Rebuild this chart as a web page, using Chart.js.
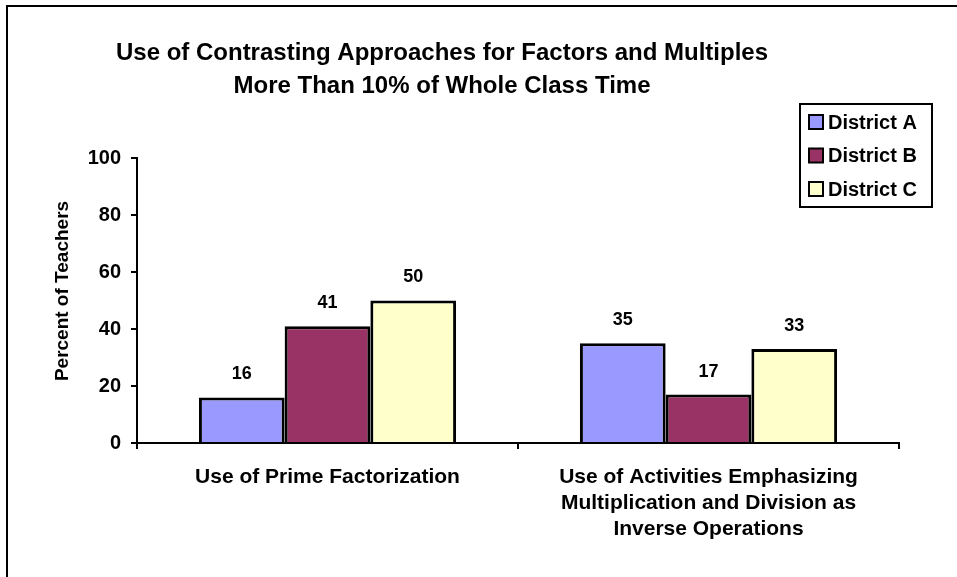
<!DOCTYPE html>
<html>
<head>
<meta charset="utf-8">
<script src="https://cdn.jsdelivr.net/npm/chart.js@4.4.1/dist/chart.umd.min.js"></script>
<style>
  html, body { margin: 0; padding: 0; background: #fff; }
  #wrap { position: relative; width: 957px; height: 577px; }
</style>
</head>
<body>
<div id="wrap"><canvas id="chart" width="957" height="577"></canvas></div>
<script>
// ── Data ────────────────────────────────────────────────────
const categories = [
  ['Use of Prime Factorization'],
  ['Use of Activities Emphasizing', 'Multiplication and Division as', 'Inverse Operations']
];
const seriesNames = ['District A', 'District B', 'District C'];
const districtA = [16, 35];
const districtB = [41, 17];
const districtC = [50, 33];
const seriesColors = ['#9999FF', '#993366', '#FFFFCC'];
const titleLines = [
  'Use of Contrasting Approaches for Factors and Multiples',
  'More Than 10% of Whole Class Time'
];
const yTitle = 'Percent of Teachers';

const FONT = "'Liberation Sans', Arial, sans-serif";

// ── Plugins ─────────────────────────────────────────────────
// outer frame (left + top edge only, like the cropped original)
const framePlugin = {
  id: 'frame',
  beforeDraw(chart) {
    const c = chart.ctx;
    c.save();
    c.fillStyle = '#fff';
    c.fillRect(0, 0, chart.width, chart.height);
    c.strokeStyle = '#000';
    c.lineWidth = 2;
    c.beginPath();
    c.moveTo(7, chart.height);
    c.lineTo(7, 6);
    c.lineTo(chart.width, 6);
    c.stroke();
    c.restore();
  }
};

// chart title + rotated y-axis title
const titlePlugin = {
  id: 'twoLineTitle',
  afterDraw(chart) {
    const c = chart.ctx;
    c.save();
    c.font = `bold 24px ${FONT}`;
    c.fillStyle = '#000';
    c.textAlign = 'center';
    c.textBaseline = 'middle';
    titleLines.forEach((t, i) => c.fillText(t, 442, 53 + i * 33));

    c.translate(63, 291);
    c.rotate(-Math.PI / 2);
    c.font = `bold 19px ${FONT}`;
    c.fillText(yTitle, 0, 0);
    c.restore();
  }
};

const legendPlugin = {
  id: 'boxLegend',
  afterDraw(chart) {
    const c = chart.ctx;
    c.save();
    c.strokeStyle = '#000';
    c.lineWidth = 2;
    c.fillStyle = '#fff';
    c.fillRect(800, 104, 132, 103);
    c.strokeRect(800, 104, 132, 103);
    c.font = `bold 20px ${FONT}`;
    c.textBaseline = 'middle';
    c.textAlign = 'left';
    seriesNames.forEach((name, i) => {
      const y = 122 + i * 33.5;
      c.fillStyle = seriesColors[i];
      c.fillRect(809, y - 7, 14, 14);
      c.lineWidth = 2;
      c.strokeRect(809, y - 7, 14, 14);
      c.fillStyle = '#000';
      c.fillText(name, 828, y + 1);
    });
    c.restore();
  }
};

const valueLabels = {
  id: 'valueLabels',
  afterDatasetsDraw(chart) {
    const c = chart.ctx;
    c.save();
    c.font = `bold 18px ${FONT}`;
    c.fillStyle = '#000';
    c.textAlign = 'center';
    c.textBaseline = 'middle';
    chart.data.datasets.forEach((ds, di) => {
      chart.getDatasetMeta(di).data.forEach((bar, i) => {
        c.fillText(String(ds.data[i]), bar.x, bar.y - 23);
      });
    });
    c.restore();
  }
};

// ── Chart ───────────────────────────────────────────────────
new Chart(document.getElementById('chart'), {
  type: 'bar',
  data: {
    labels: categories,
    datasets: [districtA, districtB, districtC].map((d, i) => ({
      label: seriesNames[i],
      data: d,
      backgroundColor: seriesColors[i],
      borderColor: '#000',
      borderWidth: 3,
      borderSkipped: 'bottom',
      categoryPercentage: 0.675,
      barPercentage: 1.0,
    }))
  },
  options: {
    responsive: false,
    animation: false,
    events: [],
    layout: { padding: { top: 158, right: 58, left: 0, bottom: 0 } },
    plugins: {
      legend: { display: false },
      title: { display: false },
      tooltip: { enabled: false },
    },
    scales: {
      x: {
        afterFit: s => { s.height = 134; },
        grid: {
          offset: true,
          drawOnChartArea: false,
          color: '#000',
          lineWidth: 2,
          tickLength: 6,
        },
        border: { display: true, color: '#000', width: 2 },
        ticks: {
          color: '#000',
          padding: 15,
          maxRotation: 0,
          font: { family: FONT, size: 21, weight: 'bold', lineHeight: 1.24 },
        },
      },
      y: {
        min: 0,
        max: 100,
        afterFit: s => { s.width = 137; },
        grid: {
          drawOnChartArea: false,
          color: '#000',
          lineWidth: 2,
          tickLength: 6,
        },
        border: { display: true, color: '#000', width: 2 },
        ticks: {
          stepSize: 20,
          color: '#000',
          padding: 10,
          font: { family: FONT, size: 20, weight: 'bold' },
        },
      },
    },
  },
  plugins: [framePlugin, valueLabels, titlePlugin, legendPlugin],
});
</script>
</body>
</html>
